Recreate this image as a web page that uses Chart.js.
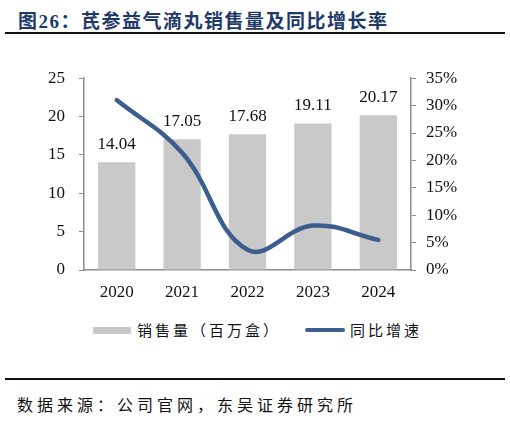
<!DOCTYPE html>
<html>
<head>
<meta charset="utf-8">
<script src="https://cdn.jsdelivr.net/npm/chart.js@4/dist/chart.umd.min.js"></script>
<style>
  body { margin: 0; width: 510px; height: 427px; background: #fff; position: relative; overflow: hidden; }
  .title { position: absolute; left: 18px; top: 6px; font: bold 19px "Liberation Serif", "Noto Sans CJK SC"; color: #1F3A68; letter-spacing: 1.5px; white-space: nowrap; }
  .rule { position: absolute; left: 5px; width: 500px; height: 2px; background: #111; }
  .legend { position: absolute; top: 320px; left: 0; width: 510px; height: 20px; font: 15px "Noto Sans CJK SC"; color: #111; letter-spacing: 3px; }
  .legend span { position: absolute; top: 0; line-height: 20px; white-space: nowrap; }
  .swatch { position: absolute; }
  .source { position: absolute; left: 17px; top: 392px; font: 16px "Noto Sans CJK SC"; color: #111; white-space: nowrap; letter-spacing: 4px; }
  #chart { position: absolute; left: 0; top: 54px; }
</style>
</head>
<body>
<div class="title">图26：芪参益气滴丸销售量及同比增长率</div>
<div class="rule" style="top:32px"></div>
<canvas id="chart" width="510" height="256"></canvas>
<div class="legend">
  <div class="swatch" style="left:93px; top:7px; width:38px; height:7px; background:#C9C9C9"></div>
  <span style="left:137px">销售量（百万盒）</span>
  <div class="swatch" style="left:305px; top:8px; width:40px; height:4px; border-radius:2px; background:#3B5E8E"></div>
  <span style="left:350px">同比增速</span>
</div>
<div class="rule" style="top:378px"></div>
<div class="source">数据来源：公司官网，东吴证券研究所</div>
<script>
const years = ["2020", "2021", "2022", "2023", "2024"];
const sales = [14.04, 17.05, 17.68, 19.11, 20.17];
const growth = [31.0, 21.4, 3.7, 8.1, 5.5];

const serif = "'Liberation Serif', 'Times New Roman', serif";

const barLabels = {
  id: "barLabels",
  afterDatasetsDraw(chart) {
    const ctx = chart.ctx;
    const meta = chart.getDatasetMeta(1);
    ctx.save();
    ctx.font = "17px " + serif;
    ctx.fillStyle = "#111";
    ctx.textAlign = "center";
    ctx.textBaseline = "bottom";
    meta.data.forEach((bar, i) => {
      ctx.fillText(sales[i].toFixed(2), bar.x, bar.y - 9);
    });
    ctx.restore();
  }
};

new Chart(document.getElementById("chart"), {
  type: "bar",
  data: {
    labels: years,
    datasets: [
      {
        type: "line",
        label: "同比增速",
        data: growth,
        yAxisID: "y1",
        borderColor: "#3B5E8E",
        borderWidth: 4.5,
        borderCapStyle: "round",
        pointRadius: 0,
        tension: 0.4,
        fill: false,
        order: 0
      },
      {
        label: "销售量（百万盒）",
        data: sales,
        yAxisID: "y",
        backgroundColor: "#C9C9C9",
        categoryPercentage: 1,
        barPercentage: 0.57,
        order: 1
      }
    ]
  },
  options: {
    responsive: false,
    animation: false,
    layout: { padding: { top: 12, left: 0, right: 0, bottom: 0 } },
    plugins: { legend: { display: false }, tooltip: { enabled: false } },
    scales: {
      x: {
        grid: { display: false, drawTicks: false },
        border: { color: "#8C8C8C", width: 1.5 },
        ticks: { color: "#111", font: { family: serif, size: 17 }, padding: 12 },
        afterFit(scale) { scale.height = 40; }
      },
      y: {
        position: "left",
        min: 0,
        max: 25,
        ticks: { stepSize: 5, color: "#111", font: { family: serif, size: 17 }, padding: 14 },
        grid: { drawOnChartArea: false, tickLength: 5, color: "#8C8C8C" },
        border: { color: "#8C8C8C", width: 1.5 },
        afterFit(scale) { scale.width = 84; }
      },
      y1: {
        position: "right",
        min: 0,
        max: 35,
        ticks: { stepSize: 5, color: "#111", font: { family: serif, size: 17 }, padding: 10, callback: v => v + "%" },
        grid: { drawOnChartArea: false, tickLength: 5, color: "#8C8C8C" },
        border: { color: "#8C8C8C", width: 1.5 },
        afterFit(scale) { scale.width = 99; }
      }
    }
  },
  plugins: [barLabels]
});
</script>
</body>
</html>
